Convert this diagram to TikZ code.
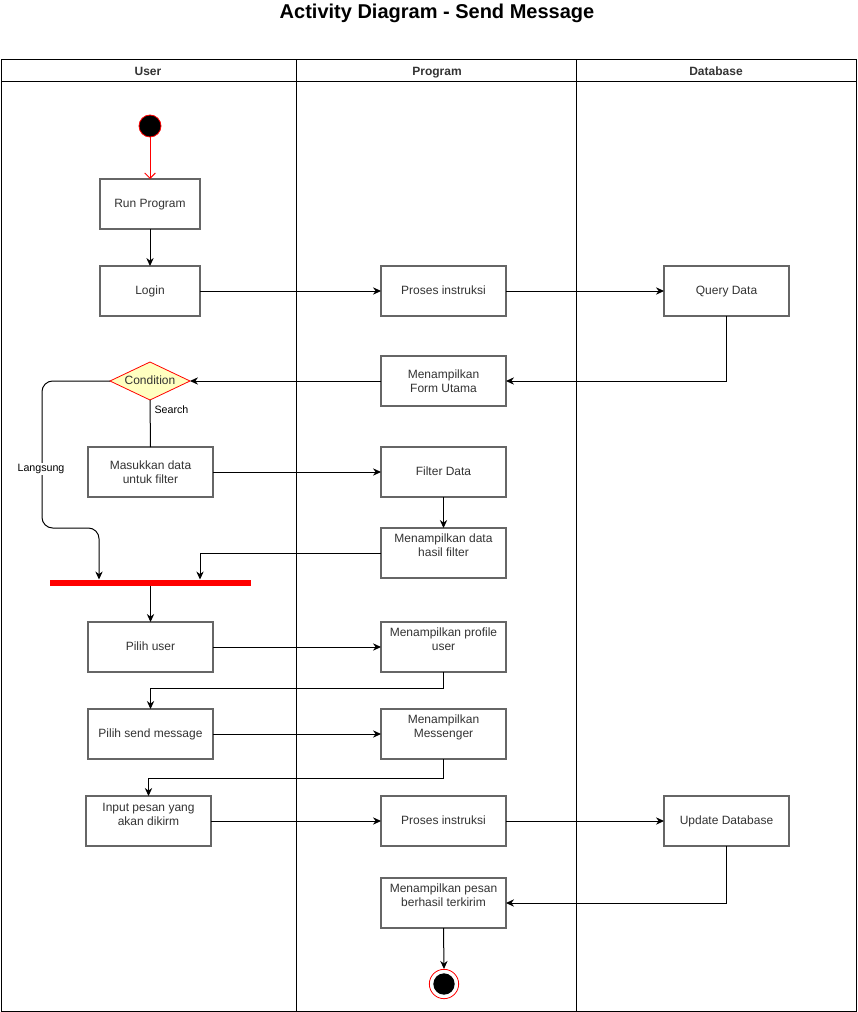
\documentclass[tikz,border=0pt]{standalone}
\usepackage{fontspec}
\setmainfont{Liberation Sans}
\usetikzlibrary{arrows.meta,shapes.geometric}
\definecolor{boxgray}{HTML}{666666}
\definecolor{txt}{HTML}{333333}
\definecolor{condfill}{HTML}{FFFFC0}
\definecolor{umlred}{HTML}{FF0000}
\tikzset{
  box/.style={draw=boxgray, line width=0.9pt, fill=white, minimum width=93.75pt, minimum height=37.5pt, inner sep=0pt, outer sep=0pt, align=center, text=txt, font=\fontsize{9}{10.5}\selectfont},
  one/.style={text height=6.6pt, text depth=1.9pt},
  sbox/.style={box, minimum width=75pt},
  lbl/.style={text=txt, align=center, font=\fontsize{9}{10.5}\selectfont, inner sep=0pt},
  elbl/.style={text=black, font=\fontsize{8}{9.5}\selectfont, inner sep=1pt},
  arr/.style={draw=black, line width=0.75pt, -{Stealth[length=6pt,width=5.5pt]}},
  ln/.style={draw=black, line width=0.75pt},
  lane/.style={draw=black, line width=0.75pt},
  hdr/.style={font=\bfseries\fontsize{9}{10.5}\selectfont, text=txt, inner sep=0pt, text height=6.6pt, text depth=1.9pt}
}
\begin{document}
\begin{tikzpicture}[x=0.75pt, y=-0.75pt]
\useasboundingbox (0,0) rectangle (857,1012);
% title
\node[font=\bfseries\fontsize{15}{18}\selectfont, inner sep=0pt, text height=11pt, text depth=3pt] (title) at (437,13) {Activity Diagram - Send Message};
% pool
\draw[lane] (1,60) rectangle (856,1011);
\draw[lane] (1,82) -- (856,82);
\draw[lane] (296,60) -- (296,1011);
\draw[lane] (576,60) -- (576,1011);
\node[hdr] (hUser) at (148,72) {User};
\node[hdr] (hProg) at (437,72) {Program};
\node[hdr] (hDb) at (716,72) {Database};
% nodes
\node[circle, fill=black, draw=umlred, line width=0.6pt, minimum size=16.5pt, inner sep=0pt] (init) at (150,126) {};
\node[sbox, one] (run) at (150,204) {Run Program};
\node[sbox, one] (login) at (150,291) {Login};
\node[box, one] (pi1) at (443.5,291) {Proses instruksi};
\node[box, one] (qd) at (726.5,291) {Query Data};
\node[box] (mfu) at (443.5,381) {Menampilkan\\Form Utama};
\node[diamond, draw=umlred, fill=condfill, line width=0.6pt, minimum width=60pt, minimum height=28.5pt, inner sep=0pt, outer sep=0pt, aspect=2.1, text=txt, font=\fontsize{9}{10.5}\selectfont, one] (cond) at (150,381) {Condition};
\node[box] (mdf) at (150.5,472) {Masukkan data\\untuk filter};
\node[box, one] (fd) at (443.5,472) {Filter Data};
\node[box] (mdhf) at (443.5,553) {};
\node[lbl] (mdhft) at (443.5,545) {Menampilkan data\\hasil filter};
\node[fill=umlred, minimum width=150.75pt, minimum height=4.5pt, inner sep=0pt, outer sep=0pt] (bar) at (150.5,582.5) {};
\node[box, one] (pu) at (150.5,647) {Pilih user};
\node[box] (mpu) at (443.5,647) {};
\node[lbl] (mput) at (443.5,639) {Menampilkan profile\\user};
\node[box, one] (psm) at (150.5,734) {Pilih send message};
\node[box] (mm) at (443.5,734) {};
\node[lbl] (mmt) at (443.5,727) {Menampilkan\\Messenger};
\node[box] (ip) at (148.5,821) {};
\node[lbl] (ipt) at (148.5,814) {Input pesan yang\\akan dikirm};
\node[box, one] (pi2) at (443.5,821) {Proses instruksi};
\node[box, one] (ud) at (726.5,821) {Update Database};
\node[box] (mpb) at (443.5,903) {};
\node[lbl] (mpbt) at (443.5,895) {Menampilkan pesan\\berhasil terkirim};
\node[circle, draw=umlred, fill=white, line width=0.6pt, minimum size=22pt, inner sep=0pt] (final) at (444,984) {};
\node[circle, fill=black, minimum size=16pt, inner sep=0pt] (finalin) at (444,984) {};
% connectors
\draw[draw=umlred, line width=0.75pt, -{Straight Barb[length=4pt,width=8pt]}] (init) -- (run.north);
\draw[arr] (run) -- (login);
\draw[arr] (login) -- (pi1);
\draw[arr] (pi1) -- (qd);
\draw[arr] (qd.south) |- (mfu.east);
\draw[arr] (mfu) -- (cond);
\draw[ln] (cond.south) -- node[elbl, anchor=west, pos=0.2, xshift=2pt] (search) {Search} (mdf.north);
\coordinate (lj) at (99,528);
\coordinate (bj) at (200,553);
\draw[arr, rounded corners=8pt] (cond.west) -- (42,381) -- (42,528) -- (lj) -- (lj |- bar.north);
\node[elbl, fill=white] (langsung) at (41,469) {Langsung};
\draw[arr] (mdf) -- (fd);
\draw[arr] (fd) -- (mdhf);
\draw[arr] (mdhf.west) -| (bj |- bar.north);
\draw[arr] (bar.south) -- (pu.north);
\draw[arr] (pu) -- (mpu);
\draw[arr] (mpu.south) -- ++(0,16) -| (psm.north);
\draw[arr] (psm) -- (mm);
\draw[arr] (mm.south) -- ++(0,19) -| (ip.north);
\draw[arr] (ip) -- (pi2);
\draw[arr] (pi2) -- (ud);
\draw[arr] (ud.south) |- (mpb.east);
\draw[arr] (mpb.south) -- (final.north);
\end{tikzpicture}
\end{document}
